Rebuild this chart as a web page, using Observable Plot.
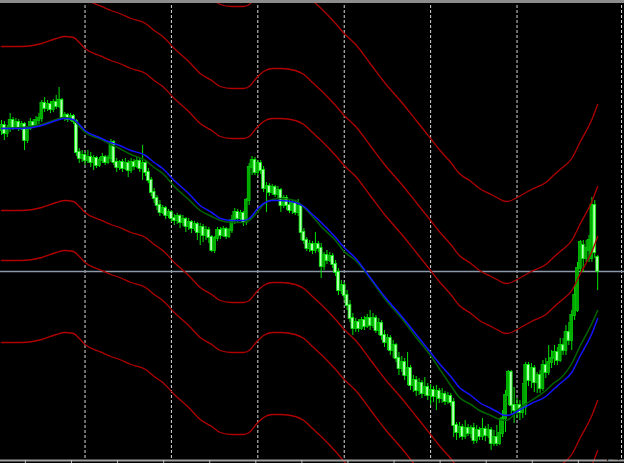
<!DOCTYPE html>
<html><head><meta charset="utf-8">
<script src="https://cdn.jsdelivr.net/npm/d3@7"></script>
<script src="https://cdn.jsdelivr.net/npm/@observablehq/plot@0.6"></script>
<style>html,body{margin:0;padding:0;background:#000;overflow:hidden}</style>
</head><body><div id="chart"></div>
<script>
// Prices in points (1 pt = 0.0001), one candle per bar index
const open = [12870,12875,12867,12872,12880,12873,12878,12872,12876,12860,12872,12878,12875,12880,12882,12897,12892,12896,12891,12898,12894,12900,12883,12885,12881,12884,12879,12848,12842,12845,12840,12843,12838,12842,12835,12840,12843,12838,12842,12858,12838,12833,12838,12832,12837,12830,12838,12834,12839,12832,12837,12828,12820,12808,12802,12795,12788,12792,12785,12788,12782,12780,12784,12778,12781,12774,12778,12772,12776,12768,12773,12765,12770,12763,12750,12762,12770,12765,12771,12764,12770,12780,12788,12782,12787,12778,12800,12833,12840,12828,12837,12830,12812,12814,12808,12813,12806,12810,12795,12802,12795,12790,12797,12788,12794,12768,12760,12752,12756,12750,12756,12752,12734,12745,12740,12744,12736,12728,12710,12715,12705,12695,12682,12672,12678,12672,12680,12674,12682,12675,12682,12670,12677,12665,12658,12662,12650,12655,12642,12632,12638,12625,12632,12615,12620,12610,12617,12607,12613,12605,12610,12604,12609,12602,12606,12599,12604,12598,12575,12568,12573,12564,12572,12567,12572,12560,12570,12564,12571,12565,12570,12557,12563,12557,12567,12582,12605,12628,12595,12590,12595,12588,12593,12635,12620,12632,12618,12625,12612,12635,12628,12638,12642,12648,12640,12655,12650,12668,12660,12685,12690,12732,12755,12742,12750,12742,12795,12743];
const high = [12880,12879,12875,12887,12883,12882,12881,12879,12878,12874,12882,12881,12884,12887,12900,12903,12900,12899,12901,12905,12913,12902,12888,12887,12887,12886,12881,12852,12850,12848,12850,12848,12845,12844,12843,12847,12845,12845,12861,12860,12842,12840,12841,12842,12840,12842,12841,12843,12842,12855,12840,12832,12823,12812,12805,12800,12795,12794,12791,12790,12786,12787,12786,12785,12783,12782,12780,12779,12778,12777,12776,12774,12773,12765,12764,12773,12773,12774,12773,12772,12785,12792,12791,12790,12789,12802,12837,12844,12843,12840,12840,12834,12818,12817,12816,12815,12814,12812,12805,12805,12800,12800,12800,12801,12796,12772,12763,12760,12759,12768,12759,12757,12748,12750,12748,12747,12740,12732,12720,12718,12710,12700,12687,12682,12681,12683,12684,12686,12690,12687,12685,12682,12680,12670,12666,12665,12660,12657,12648,12644,12642,12648,12635,12625,12624,12622,12620,12623,12617,12616,12614,12615,12612,12612,12609,12608,12607,12602,12578,12578,12576,12580,12576,12575,12577,12575,12573,12582,12574,12576,12573,12570,12575,12582,12590,12610,12630,12630,12613,12602,12600,12617,12638,12638,12637,12635,12628,12630,12640,12642,12655,12650,12655,12653,12662,12662,12675,12678,12690,12715,12738,12760,12760,12760,12765,12803,12800,12745];
const low = [12865,12860,12863,12868,12870,12871,12869,12870,12850,12857,12870,12872,12873,12876,12878,12888,12889,12887,12888,12891,12892,12881,12879,12878,12879,12876,12844,12837,12838,12835,12837,12833,12830,12832,12833,12837,12835,12836,12838,12835,12828,12830,12828,12830,12823,12827,12830,12832,12828,12820,12824,12817,12804,12797,12790,12784,12786,12781,12782,12778,12775,12776,12772,12774,12768,12770,12767,12769,12760,12755,12758,12760,12757,12748,12747,12759,12761,12763,12761,12762,12767,12776,12778,12780,12774,12775,12795,12825,12825,12824,12826,12808,12788,12804,12805,12803,12802,12788,12792,12790,12787,12786,12785,12784,12760,12756,12749,12748,12746,12747,12748,12722,12730,12736,12738,12732,12724,12705,12706,12700,12690,12678,12665,12668,12668,12670,12670,12672,12670,12672,12667,12665,12660,12653,12650,12645,12642,12638,12625,12628,12620,12615,12610,12608,12604,12605,12602,12604,12600,12595,12598,12590,12597,12597,12595,12596,12594,12563,12560,12562,12560,12561,12564,12562,12556,12557,12560,12560,12559,12562,12550,12554,12554,12555,12563,12568,12595,12585,12577,12582,12580,12582,12585,12614,12612,12608,12607,12607,12609,12622,12625,12632,12635,12635,12638,12645,12645,12655,12650,12680,12688,12728,12728,12738,12738,12738,12742,12710];
const close = [12875,12867,12872,12880,12873,12878,12872,12876,12860,12872,12878,12875,12880,12882,12897,12892,12896,12891,12898,12894,12900,12883,12885,12881,12884,12879,12848,12842,12845,12840,12843,12838,12842,12835,12840,12843,12838,12842,12858,12838,12833,12838,12832,12837,12830,12838,12834,12839,12832,12837,12828,12820,12808,12802,12795,12788,12792,12785,12788,12782,12780,12784,12778,12781,12774,12778,12772,12776,12768,12773,12765,12770,12763,12750,12762,12770,12765,12771,12764,12770,12780,12788,12782,12787,12778,12800,12833,12840,12828,12837,12830,12812,12814,12808,12813,12806,12810,12795,12802,12795,12790,12797,12788,12794,12768,12760,12752,12756,12750,12756,12752,12734,12745,12740,12744,12736,12728,12710,12715,12705,12695,12682,12672,12678,12672,12680,12674,12682,12675,12682,12670,12677,12665,12658,12662,12650,12655,12642,12632,12638,12625,12632,12615,12620,12610,12617,12607,12613,12605,12610,12604,12609,12602,12606,12599,12604,12598,12575,12568,12573,12564,12572,12567,12572,12560,12570,12564,12571,12565,12570,12557,12563,12557,12567,12582,12605,12628,12595,12590,12595,12588,12593,12635,12620,12632,12618,12625,12612,12635,12628,12638,12642,12648,12640,12655,12650,12668,12660,12685,12705,12732,12758,12742,12752,12760,12795,12748,12729];

// Moving averages sampled at bar indices (points)
const maIndex = [0,7,14,19,22,25,27,29,34,38,41,45,50,53,56,60,65,69,73,76,80,84,86,89,91,94,97,102,105,108,111,116,119,123,128,133,139,144,149,152,156,159,163,166,170,172,175,177,179,184,189,192,194,198,201,205,207];
const maSlow = [12872,12872,12875,12880,12882,12881,12876,12870,12863,12858,12855,12850,12845,12838,12832,12820,12807,12795,12788,12782,12780,12780,12782,12792,12797,12800,12800,12798,12794,12786,12778,12763,12753,12742,12723,12704,12684,12666,12648,12637,12624,12613,12605,12598,12592,12589,12585,12586,12589,12597,12604,12612,12617,12628,12645,12667,12682];
const maFast = [12872,12873,12876,12881,12883,12880,12874,12868,12862,12856,12852,12846,12840,12833,12827,12814,12801,12790,12784,12780,12778,12778,12780,12789,12796,12801,12802,12800,12793,12784,12774,12760,12749,12740,12722,12702,12682,12663,12645,12632,12615,12603,12596,12590,12585,12582,12580,12583,12590,12600,12610,12618,12622,12637,12655,12677,12690];
// Envelope offsets around the slow MA (points)
const bandOffsets = [214, 132, 82, -82, -132, -214];
// Period separators and time-axis ticks (bar index)
const separators = [29, 59, 89, 119, 149, 179, 215.3];
const timeTicks = [8.3, 24.3, 40.3, 56.3, 72.3, 88.3, 104.3, 120.3, 136.3, 152.3, 168.3, 184.3, 200.3];

const candles = open.map((o, i) => ({i, open: o, high: high[i], low: low[i], close: close[i], up: close[i] >= o}));
const ma = maIndex.map((i, k) => ({i, slow: maSlow[k], fast: maFast[k]}));
const bands = bandOffsets.flatMap(off => ma.map(d => ({i: d.i, off, v: d.slow + off})));
const bid = close[close.length - 1];

const chart = Plot.plot({
  width: 624, height: 463,
  marginTop: 0, marginLeft: 0, marginRight: 0, marginBottom: 3,
  style: {background: "#000", overflow: "hidden"},
  x: {domain: [-0.347, 216.32], axis: null},
  y: {domain: [12540, 13000], axis: null},
  marks: [
    Plot.ruleX(separators, {stroke: "#d8d8d8", strokeWidth: 1, strokeDasharray: "3,2"}),
    Plot.ruleY([bid], {stroke: "#8a98a8", strokeWidth: 1.5}),
    Plot.ruleX(candles, {x: "i", y1: "low", y2: "high", stroke: "#00e000", strokeWidth: 1}),
    Plot.rect(candles, {
      x1: d => d.i - 0.48, x2: d => d.i + 0.48,
      y1: d => Math.min(d.open, d.close), y2: d => Math.max(d.open, d.close),
      fill: d => d.up ? "#00a800" : "#b8ffb8",
      stroke: d => d.up ? "#00c800" : "#00f000", strokeWidth: 0.8,
      insetTop: -0.5, insetBottom: -0.5
    }),
    Plot.line(ma, {x: "i", y: "fast", stroke: "#006400", strokeWidth: 1.5, curve: "monotone-x"}),
    Plot.line(ma, {x: "i", y: "slow", stroke: "#1414ff", strokeWidth: 1.5, curve: "monotone-x"}),
    Plot.line(bands, {x: "i", y: "v", z: "off", stroke: "#b00000", strokeWidth: 1.3, curve: "monotone-x"}),
    Plot.frame({anchor: "top", stroke: "#8c8c8c", strokeWidth: 5}),
    Plot.frame({anchor: "bottom", stroke: "#a0a0a0", strokeWidth: 2}),
    Plot.axisX({ticks: timeTicks, tickFormat: () => "", tickSize: 3, stroke: "#c0c0c0"})
  ]
});
document.getElementById("chart").appendChild(chart);
</script>
</body></html>
